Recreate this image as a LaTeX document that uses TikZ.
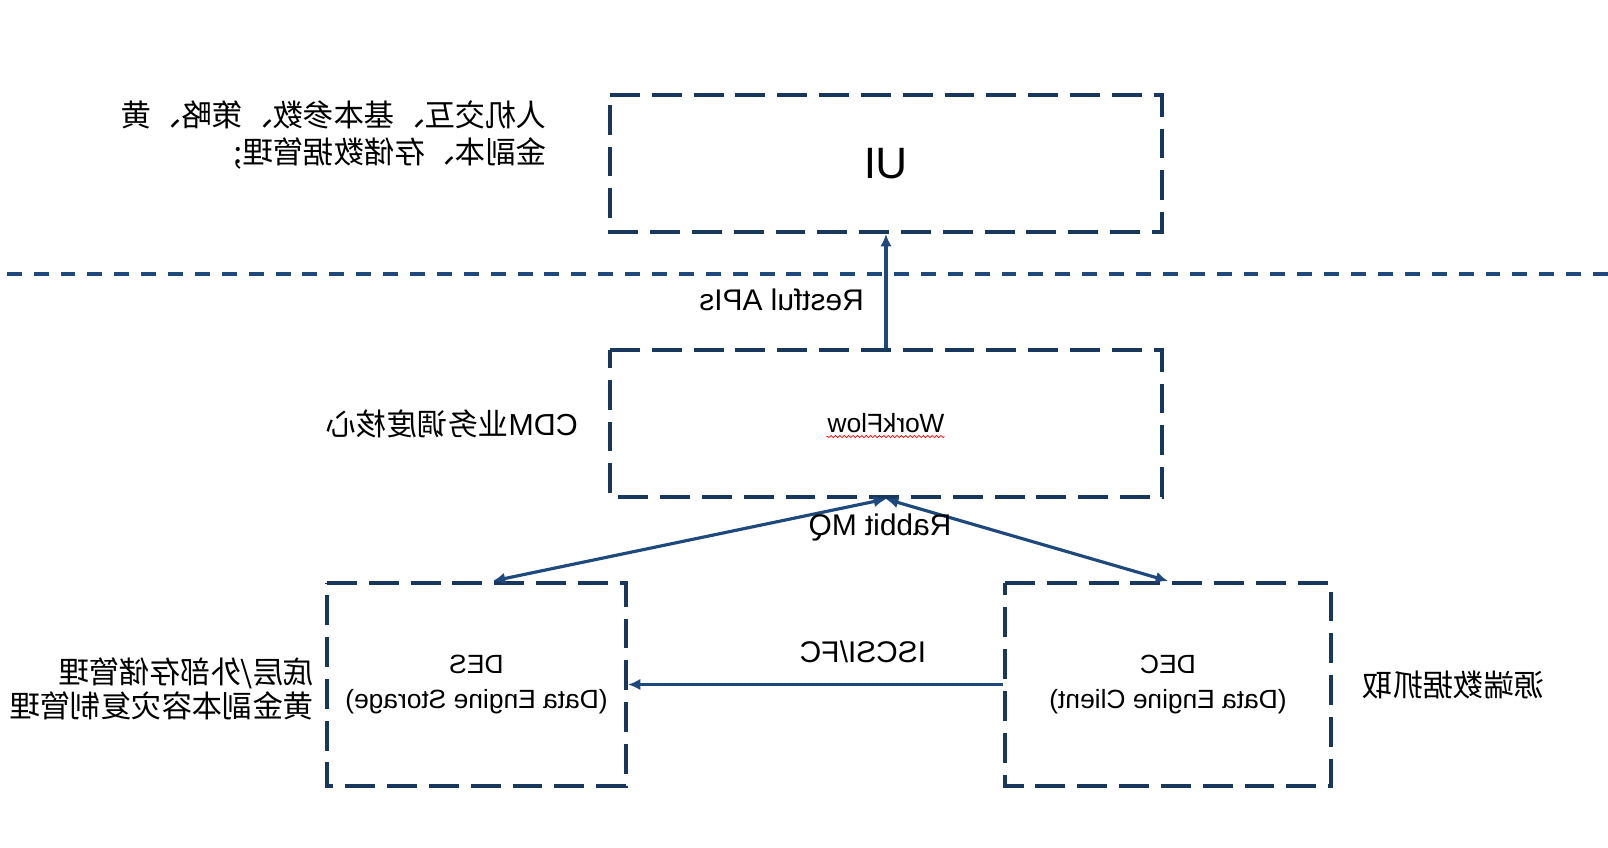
\documentclass[tikz,border=0pt]{standalone}
\usepackage{fontspec}
\setmainfont{Liberation Sans}
\newfontfamily\cjk{Noto Sans CJK SC}
\usetikzlibrary{arrows.meta, positioning, calc, decorations.pathmorphing}
\definecolor{DB}{RGB}{23,55,94}
\definecolor{AB}{RGB}{31,73,125}

\begin{document}
\begin{tikzpicture}[
  xscale=-1, transform shape,
  box/.style={draw=DB, line width=2.3pt, dash pattern=on 17pt off 6.8pt,
              align=center, font=\fontsize{15}{19.4}\selectfont},
  arr/.style={-{Latex[length=7pt, width=6.5pt]}, line width=1.8pt, draw=AB},
  darr/.style={arr, {Latex[length=7pt, width=6.5pt]}-{Latex[length=7pt, width=6.5pt]}},
  sep/.style={draw=AB, line width=1.9pt, dash pattern=on 8.5pt off 6.8pt},
  lbl/.style={font=\fontsize{17}{20}\selectfont},
  note/.style={font=\cjk\fontsize{17.3}{21.6}\selectfont, align=left}
]
\useasboundingbox (0,0) rectangle (32.16,-16.94);

\node[box, minimum width=11.04cm, minimum height=2.74cm,
      font=\fontsize{25}{30}\selectfont] (ui) at (14.44,-3.27) {UI};
\node[box, minimum width=11.04cm, minimum height=2.94cm] (wf)  at (14.44,-8.47)  {WorkFlow};
\node[box, minimum width=5.98cm,  minimum height=4.06cm] (des) at (22.63,-13.69) {DES\\(Data Engine Storage)};
\node[box, minimum width=6.52cm,  minimum height=4.06cm] (dec) at (8.80,-13.69)  {DEC\\(Data Engine Client)};

% Separator
\coordinate (sepL) at (0,-5.48);
\coordinate (sepR) at (32.16,-5.48);
\draw[sep] (sepL)--(sepR);

\draw[arr]  (wf)--(ui);
\draw[darr] (wf.south)--(des.99);
\draw[darr] (wf.south)--(dec.north);
\draw[arr]  (dec)--(des);

\node[lbl, anchor=west] (rest) at (14.76,-6.00)  {Restful APIs};
\node[lbl]              (mq)   at (14.56,-10.54) {Rabbit MQ};
\node[lbl]              (fc)   at (14.90,-13.04) {ISCSI/FC};

% spell-check underline
\draw[red, line width=0.4pt, decorate,
      decoration={snake, amplitude=0.6pt, segment length=2.5pt}]
  ($(wf.center)+(-1.17,-0.26)$)--($(wf.center)+(1.19,-0.26)$);

% Side notes
\node[note, anchor=west] (n-ui)  at (21.10,-2.70)  {人机交互、基本参数、策略、黄\\金副本、存储数据管理;};
\node[note, anchor=west] (n-wf)  at (20.48,-8.48)  {{\normalfont CDM}业务调度核心};
\node[note, anchor=west, font=\cjk\fontsize{17.3}{19.4}\selectfont]
                         (n-des) at (25.76,-13.78) {底层/外部存储管理\\黄金副本容灾复制管理};
\node[note, anchor=east] (n-dec) at (5.04,-13.70)  {源端数据抓取};
\end{tikzpicture}
\end{document}
